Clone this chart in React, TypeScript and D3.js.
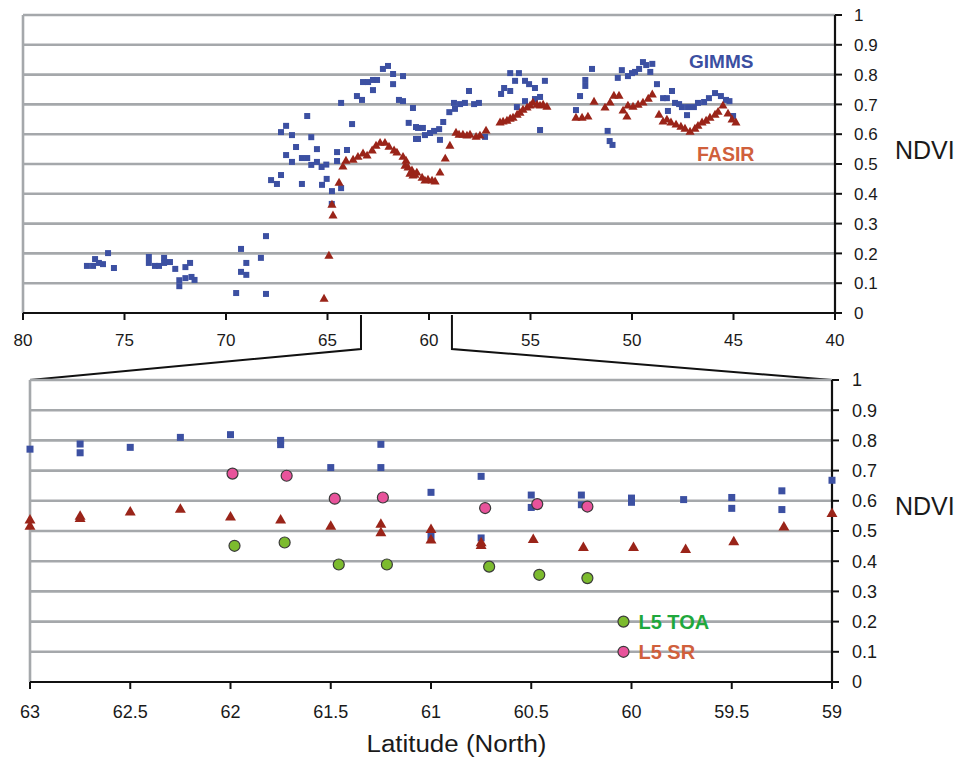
import React from "react";
import * as d3 from "d3";

// ---------- DATA ----------
const topTicksX = [80, 75, 70, 65, 60, 55, 50, 45, 40];
const yTickValues = [0, 0.1, 0.2, 0.3, 0.4, 0.5, 0.6, 0.7, 0.8, 0.9, 1];
const bottomTicksX = [63, 62.5, 62, 61.5, 61, 60.5, 60, 59.5, 59];
const zoomRange = [63.35, 58.87];

const gimmsTopLat = [
  76.85, 76.55, 76.45, 76.26, 76.06, 75.81, 75.52,
  73.8, 73.8, 73.5, 73.3, 73.05, 73.05, 72.76, 72.5, 72.0, 71.77, 72.3, 72.3, 72.0, 71.7, 71.55,
  69.26, 69.0, 69.26, 69.0, 69.5, 68.28, 68.03, 68.03,
  67.78, 67.49, 67.29, 67.29, 67.04, 66.75, 67.04, 66.75, 66.55, 66.26, 66.0, 66.0, 66.26, 65.8, 65.8,
  65.52, 65.52, 65.29, 65.06, 65.27, 65.04, 64.78, 64.79, 64.53, 64.53, 64.33, 64.33, 64.04, 63.79,
  63.55, 63.3, 63.25, 63.0, 62.76, 62.76, 62.56, 62.27, 62.02, 61.77, 61.77, 61.28, 61.48, 61.28,
  60.79, 61.0, 60.64, 60.64, 60.54, 60.54, 60.3, 60.2, 59.95, 59.75, 59.5, 59.46, 59.3, 59.0, 58.77,
  58.72, 58.47, 58.23, 58.03, 57.78, 57.54, 57.24, 56.45, 56.3, 56.0, 56.0, 55.57, 55.76, 55.27,
  55.07, 54.78, 54.29, 55.27, 54.53, 54.78, 54.53, 55.67,
  52.76, 52.56, 52.3, 52.3, 51.97, 51.2, 51.1, 50.96, 50.7, 50.5, 50.2, 50.0, 49.85, 49.65, 49.46,
  49.3, 49.1, 49.0, 48.77, 48.47, 48.28, 48.03, 47.88, 47.68, 47.54, 47.24, 46.95, 46.75, 46.45,
  46.21, 45.91, 45.62, 45.37, 45.2, 48.23, 47.29, 45.02,
];
const gimmsTopNdvi = [
  0.158, 0.158, 0.181, 0.168, 0.164, 0.201, 0.151,
  0.188, 0.168, 0.158, 0.158, 0.185, 0.168, 0.171, 0.148, 0.154, 0.168, 0.11, 0.09, 0.117, 0.121, 0.111,
  0.215, 0.168, 0.138, 0.128, 0.067, 0.185, 0.258, 0.064,
  0.446, 0.433, 0.463, 0.607, 0.628, 0.597, 0.53, 0.507, 0.557, 0.52, 0.661, 0.52, 0.433, 0.59, 0.497,
  0.55, 0.507, 0.49, 0.498, 0.43, 0.45, 0.409, 0.366, 0.54, 0.51, 0.419, 0.705, 0.547, 0.634,
  0.728, 0.715, 0.775, 0.775, 0.782, 0.748, 0.782, 0.819, 0.829, 0.802, 0.768, 0.795, 0.715, 0.711,
  0.688, 0.638, 0.624, 0.584, 0.621, 0.584, 0.621, 0.597, 0.604, 0.611, 0.617, 0.581, 0.641, 0.674, 0.705,
  0.685, 0.701, 0.705, 0.745, 0.701, 0.705, 0.591, 0.735, 0.755, 0.745, 0.805, 0.805, 0.779, 0.779,
  0.768, 0.755, 0.779, 0.711, 0.725, 0.718, 0.614, 0.691,
  0.681, 0.728, 0.782, 0.762, 0.819, 0.611, 0.577, 0.564, 0.789, 0.815, 0.795, 0.805, 0.809, 0.819, 0.842,
  0.832, 0.809, 0.836, 0.768, 0.721, 0.721, 0.745, 0.705, 0.701, 0.691, 0.691, 0.691, 0.705, 0.708,
  0.721, 0.738, 0.728, 0.715, 0.711, 0.678, 0.664, 0.661,
];

const fasirTopLat = [
  65.17, 64.93, 64.73, 64.78, 64.43, 64.24, 64.09, 63.74, 63.5, 63.25, 63.05, 62.8, 62.61, 62.41,
  62.17, 61.97, 61.72, 61.58, 61.28, 61.13, 61.03, 60.84, 60.69, 61.18, 60.94, 60.79, 60.6, 60.34,
  60.2, 60.05, 59.85, 59.7, 59.46, 59.2, 58.97, 58.67, 58.52, 58.33, 58.13, 57.98, 57.68, 57.49,
  57.19, 56.5, 56.35, 56.16, 56.0, 55.86, 55.66, 55.52, 55.37, 55.17, 55.02, 54.88, 54.68, 54.53,
  54.38, 54.19,
  52.76, 52.46, 52.17, 51.87, 51.33, 51.08, 50.89, 50.64, 50.44, 50.25, 50.2, 49.95, 49.7, 49.46,
  49.2, 49.0, 48.67, 48.47, 48.28, 48.08, 47.83, 47.59, 47.39, 47.14, 46.9, 46.75, 46.55, 46.35,
  46.16, 45.91, 45.76, 45.52, 45.27, 45.07, 44.88,
];
const fasirTopNdvi = [
  0.047, 0.191, 0.326, 0.362, 0.436, 0.49, 0.51, 0.513, 0.523, 0.534, 0.527, 0.544, 0.56, 0.57,
  0.57, 0.557, 0.544, 0.537, 0.523, 0.51, 0.487, 0.477, 0.463, 0.493, 0.466, 0.46, 0.47, 0.453,
  0.443, 0.446, 0.443, 0.44, 0.47, 0.517, 0.56, 0.604, 0.597, 0.597, 0.594, 0.597, 0.59, 0.594,
  0.611, 0.638, 0.641, 0.644, 0.651, 0.654, 0.664, 0.671, 0.681, 0.688, 0.695, 0.705, 0.698, 0.695,
  0.698, 0.691,
  0.654, 0.654, 0.658, 0.708, 0.688, 0.705, 0.728, 0.728, 0.678, 0.658, 0.695, 0.691, 0.698, 0.705,
  0.718, 0.732, 0.664, 0.641, 0.648, 0.638, 0.631, 0.624, 0.617, 0.607, 0.617, 0.627, 0.638, 0.644,
  0.654, 0.664, 0.674, 0.695, 0.668, 0.648, 0.638,
];

const gimmsBotLat = [
  63.0, 62.75, 62.75, 62.5, 62.25, 62.0, 61.75, 61.75, 61.25, 61.5, 61.25, 61.0, 61.0, 60.75, 60.75,
  60.5, 60.5, 60.25, 60.25, 60.0, 60.0, 59.74, 59.5, 59.5, 59.25, 59.25, 59.0,
];
const gimmsBotNdvi = [
  0.771, 0.788, 0.759, 0.777, 0.81, 0.819, 0.8, 0.786, 0.787, 0.71, 0.71, 0.628, 0.482, 0.681, 0.477,
  0.619, 0.578, 0.619, 0.587, 0.609, 0.595, 0.604, 0.611, 0.575, 0.633, 0.571, 0.668,
];

const fasirBotLat = [
  63.0, 63.0, 62.75, 62.75, 62.5, 62.25, 62.0, 61.75, 61.5, 61.25, 61.25, 61.0, 61.0, 60.75, 60.75,
  60.49, 60.24, 59.99, 59.73, 59.49, 59.24, 59.0,
];
const fasirBotNdvi = [
  0.535, 0.515, 0.548, 0.54, 0.562, 0.571, 0.545, 0.535, 0.515, 0.521, 0.493, 0.504, 0.469, 0.46, 0.451,
  0.471, 0.444, 0.444, 0.438, 0.463, 0.512, 0.557,
];

const srLat = [61.99, 61.72, 61.48, 61.24, 60.73, 60.47, 60.22];
const srNdvi = [0.69, 0.683, 0.607, 0.611, 0.576, 0.589, 0.581];
const toaLat = [61.98, 61.73, 61.46, 61.22, 60.71, 60.46, 60.22];
const toaNdvi = [0.451, 0.462, 0.389, 0.389, 0.382, 0.355, 0.344];

const legendItems = [
  { label: "L5 TOA", value: 0.2, fill: "#7cbb2e", text: "#1fa83c" },
  { label: "L5 SR", value: 0.1, fill: "#e8539b", text: "#d0603c" },
];
const legendLat = 60.04;

// ---------- STYLE ----------
const FONT = "'Liberation Sans', Arial, Helvetica, sans-serif";
const BLUE = "#3c50a2";
const RED = "#9a2419";
const GRID = "#a5a8ab";

export default function App() {
  const xTop = d3.scaleLinear().domain([80, 40]).range([23, 835]);
  const yTop = d3.scaleLinear().domain([0, 1]).range([313, 15]);
  const xBot = d3.scaleLinear().domain([63, 59]).range([30, 832]);
  const yBot = d3.scaleLinear().domain([0, 1]).range([682, 380]);

  const triTop = d3.symbol(d3.symbolTriangle, 36)() as string;
  const triBot = d3.symbol(d3.symbolTriangle, 52)() as string;

  const bracketY = 349;

  const grid = (x: any, y: any) =>
    yTickValues
      .filter((v) => v > 0)
      .map((v) => (
        <line key={"g" + v} x1={x.range()[0]} x2={x.range()[1]} y1={y(v)} y2={y(v)} stroke={GRID} strokeWidth={2.6} />
      ));

  const rightAxis = (x: any, y: any, labelX: number, fs: number, pre: string) => (
    <g>
      <line x1={x.range()[1]} x2={x.range()[1]} y1={y(0)} y2={y(1)} stroke="#111" strokeWidth={2.2} />
      {yTickValues.map((v) => (
        <g key={pre + v}>
          <line x1={x.range()[1]} x2={x.range()[1] + 7} y1={y(v)} y2={y(v)} stroke="#111" strokeWidth={2} />
          <text x={labelX} y={y(v)} dy="0.36em" fontSize={fs} fontFamily={FONT} fill="#1a1a1a">
            {String(v)}
          </text>
        </g>
      ))}
    </g>
  );

  return (
    <svg width={959} height={758} style={{ position: "absolute", left: 0, top: 0, background: "#fff" }}>
      <rect x={0} y={0} width={959} height={758} fill="#fff" />

      {/* ---------- TOP PANEL ---------- */}
      {grid(xTop, yTop)}
      <line x1={xTop(80)} x2={xTop(80)} y1={yTop(0)} y2={yTop(1)} stroke={GRID} strokeWidth={2.6} />
      {rightAxis(xTop, yTop, 854, 17, "t")}
      <line x1={xTop(80)} x2={xTop(40)} y1={yTop(0)} y2={yTop(0)} stroke="#111" strokeWidth={2.2} />
      {topTicksX.map((t) => (
        <g key={"tx" + t}>
          <line x1={xTop(t)} x2={xTop(t)} y1={yTop(0)} y2={yTop(0) + 7} stroke="#111" strokeWidth={2} />
          <text x={xTop(t)} y={346} textAnchor="middle" fontSize={17} fontFamily={FONT} fill="#1a1a1a">
            {t}
          </text>
        </g>
      ))}
      <text x={895} y={150} dy="0.36em" fontSize={25} fontFamily={FONT} fill="#1a1a1a">NDVI</text>

      {gimmsTopLat.map((lat, i) => (
        <rect key={"gt" + i} x={xTop(lat) - 3} y={yTop(gimmsTopNdvi[i]) - 3} width={6} height={6} fill={BLUE} />
      ))}
      {fasirTopLat.map((lat, i) => (
        <path key={"ft" + i} d={triTop} transform={`translate(${xTop(lat)},${yTop(fasirTopNdvi[i])})`} fill={RED} />
      ))}

      <text x={689} y={68} fontSize={19} fontWeight="bold" fontFamily={FONT} fill="#3b4fa1">GIMMS</text>
      <text x={697} y={160.5} fontSize={19.5} fontWeight="bold" fontFamily={FONT} fill="#d0603c">FASIR</text>

      {/* ---------- ZOOM BRACKET ---------- */}
      <polyline
        points={`${xTop(zoomRange[0])},${yTop(0) + 2} ${xTop(zoomRange[0])},${bracketY} ${xBot(63)},${yBot(1)}`}
        fill="none"
        stroke="#111"
        strokeWidth={2}
      />
      <polyline
        points={`${xTop(zoomRange[1])},${yTop(0) + 2} ${xTop(zoomRange[1])},${bracketY} ${xBot(59)},${yBot(1)}`}
        fill="none"
        stroke="#111"
        strokeWidth={2}
      />

      {/* ---------- BOTTOM PANEL ---------- */}
      {grid(xBot, yBot)}
      <line x1={xBot(63)} x2={xBot(63)} y1={yBot(0)} y2={yBot(1)} stroke={GRID} strokeWidth={2.6} />
      {rightAxis(xBot, yBot, 852, 18, "b")}
      <line x1={xBot(63)} x2={xBot(59)} y1={yBot(0)} y2={yBot(0)} stroke="#111" strokeWidth={2.2} />
      {bottomTicksX.map((t) => (
        <g key={"bx" + t}>
          <line x1={xBot(t)} x2={xBot(t)} y1={yBot(0)} y2={yBot(0) + 7} stroke="#111" strokeWidth={2} />
          <text x={xBot(t)} y={718} textAnchor="middle" fontSize={18} fontFamily={FONT} fill="#1a1a1a">
            {t}
          </text>
        </g>
      ))}
      <text x={895} y={506} dy="0.36em" fontSize={25} fontFamily={FONT} fill="#1a1a1a">NDVI</text>
      <text x={456.5} y={752} textAnchor="middle" fontSize={23} fontFamily={FONT} fill="#1a1a1a" textLength={180} lengthAdjust="spacingAndGlyphs">
        Latitude (North)
      </text>

      {gimmsBotLat.map((lat, i) => (
        <rect key={"gb" + i} x={xBot(lat) - 3.5} y={yBot(gimmsBotNdvi[i]) - 3.5} width={7} height={7} fill={BLUE} />
      ))}
      {fasirBotLat.map((lat, i) => (
        <path key={"fb" + i} d={triBot} transform={`translate(${xBot(lat)},${yBot(fasirBotNdvi[i])})`} fill={RED} />
      ))}
      {srLat.map((lat, i) => (
        <circle key={"sr" + i} cx={xBot(lat)} cy={yBot(srNdvi[i])} r={5.5} fill="#e8539b" stroke="#3a3a3a" strokeWidth={1.2} />
      ))}
      {toaLat.map((lat, i) => (
        <circle key={"toa" + i} cx={xBot(lat)} cy={yBot(toaNdvi[i])} r={5.5} fill="#7cbb2e" stroke="#3a3a3a" strokeWidth={1.2} />
      ))}

      {legendItems.map((it) => (
        <g key={it.label}>
          <circle cx={xBot(legendLat)} cy={yBot(it.value)} r={5.5} fill={it.fill} stroke="#3a3a3a" strokeWidth={1.2} />
          <text x={xBot(legendLat) + 15} y={yBot(it.value)} dy="0.38em" fontSize={20} fontWeight="bold" fontFamily={FONT} fill={it.text}>
            {it.label}
          </text>
        </g>
      ))}
    </svg>
  );
}
